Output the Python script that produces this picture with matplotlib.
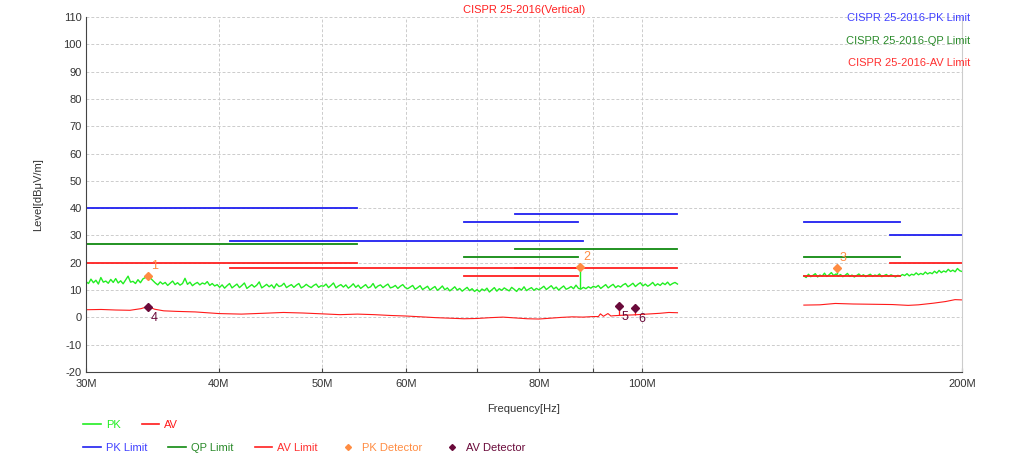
import numpy as np
import matplotlib
matplotlib.use('Agg')
import matplotlib.pyplot as plt
from matplotlib.lines import Line2D

plt.rcParams['font.family'] = ['Liberation Sans', 'DejaVu Sans']
plt.rcParams['axes.unicode_minus'] = False

# ---- data (MHz / dBuV/m) ----
pk_band1 = [13.1, 12.4, 14.0, 12.7, 13.6, 12.2, 14.6, 12.9, 13.3, 12.5, 13.9, 12.8, 14.2, 12.6, 13.4, 12.3,
            13.7, 15.1, 12.9, 13.2, 12.4, 13.8, 12.7,
            14.1, 14.6, 15.2, 14.4, 13.5,
            12.6, 11.9, 13.0, 12.2, 12.8, 11.7, 12.5, 13.3, 12.0, 12.7, 11.8, 12.4, 14.3, 12.1, 12.9, 11.6,
            12.3, 12.8, 11.9, 12.6, 12.2, 13.1, 11.7, 12.4, 11.5, 12.0,
            11.0, 11.9, 10.7, 11.6, 12.4, 10.8, 11.5, 12.2, 10.9, 11.7, 12.6, 10.6, 11.3, 12.0, 11.1, 11.8,
            13.0, 10.8, 11.4, 12.1, 11.2, 11.9, 10.7, 12.3, 11.3, 11.6, 12.5, 10.9, 11.5, 12.0, 11.0, 11.8,
            12.4, 10.8, 11.3, 12.1, 11.4, 10.9, 11.7, 12.2, 11.0, 11.6,
            11.4, 12.2, 10.9, 11.7, 12.6, 10.8, 11.5, 12.0, 11.1, 11.9, 10.7, 11.4, 12.3, 11.0, 11.8, 10.6,
            11.3, 12.0, 10.8, 11.2, 12.4, 10.7, 11.5, 11.9, 10.9, 11.6, 12.2, 10.8, 11.1, 11.7, 10.6, 11.4,
            12.0, 10.9,
            10.5, 11.1, 11.7, 10.3, 10.9, 11.6, 10.2, 10.8, 11.4, 10.0, 10.7, 11.3, 9.9, 10.6, 11.5, 10.1,
            10.8, 9.7, 10.4, 11.2, 10.0, 10.6, 9.6, 10.3, 11.0, 9.8, 10.5, 9.5, 10.2,
            9.4, 10.4, 9.8, 10.7, 9.3, 10.1, 10.9, 9.6, 10.5, 9.9, 10.8, 10.2, 9.7, 11.0, 10.3, 9.5, 10.6,
            10.0, 11.2, 9.8, 10.4, 10.9, 9.9, 10.6, 10.1,
            10.7, 11.4, 10.2, 10.9, 11.6, 10.4, 11.1, 10.0, 10.8, 11.5, 10.3, 10.7, 11.3, 10.5, 11.8, 10.6,
            10.4,
            11.0, 10.5, 11.2, 10.7, 11.4,
            11.0, 11.7, 10.6, 11.3, 12.0, 10.8, 11.5, 12.1, 10.9, 11.6, 11.1, 11.9, 12.4, 11.2, 11.8, 12.5,
            11.3, 12.1, 12.7, 11.5, 12.2, 11.4, 12.0, 12.8, 11.6, 12.3, 11.7, 12.6, 12.0, 12.9, 11.8, 12.4,
            12.8, 12.2]
pk_band2 = [15.2, 14.6, 15.8, 14.9, 15.4, 16.0, 14.8, 15.5, 15.1, 16.2, 15.0, 15.6, 16.4, 15.3, 15.9, 15.1,
            15.7, 14.9, 15.4, 16.1, 15.0, 15.5, 14.8, 15.3, 15.9, 15.1, 15.6, 14.9, 15.4, 15.8, 15.0, 15.5,
            15.2, 15.9, 14.9, 15.3, 15.7, 15.0, 15.6, 15.2, 14.8, 15.4, 15.1, 15.7, 15.3, 16.0, 15.2, 15.8,
            15.5, 16.3, 15.6, 16.1, 15.7, 16.6, 15.9, 16.4, 16.0, 16.9, 16.2, 17.2, 16.4, 17.0, 16.6, 17.6,
            16.8, 17.3, 16.7, 17.9, 17.1, 16.8]

av_f1 = [30, 31, 32, 33, 33.8, 34.3, 34.8, 35.5, 36.5, 38, 40, 42, 44, 46, 48, 50, 52, 54, 56, 58, 60,
         62, 64, 66, 68, 70, 72, 74, 76, 78, 80, 82, 84, 86, 88, 90, 91, 91.4, 92, 92.9, 93.5, 94, 96,
         98, 100, 102, 104, 106, 108]
av_v1 = [2.8, 2.9, 2.7, 2.6, 3.2, 4.0, 3.0, 2.4, 2.2, 2.0, 1.4, 1.2, 1.5, 1.8, 1.6, 1.3, 1.0, 1.2, 1.0,
         0.7, 0.5, 0.2, -0.1, -0.3, -0.5, -0.4, -0.1, 0.1, -0.2, -0.5, -0.6, -0.3, 0.0, 0.2, 0.1, 0.3,
         0.3, 1.3, 0.4, 1.4, 0.5, 0.6, 0.8, 0.9, 1.1, 1.3, 1.5, 1.8, 1.7]
av_f2 = [142, 147, 152, 158, 165, 172, 178, 182, 188, 193, 197, 200]
av_v2 = [4.5, 4.6, 5.1, 4.9, 4.8, 4.7, 4.4, 4.6, 5.2, 5.8, 6.5, 6.4]

# limit segments: start, stop, level
pk_lim = [(30, 54, 40), (41, 88, 28), (68, 87, 35), (76, 108, 38), (142, 175, 35), (171, 200, 30)]
qp_lim = [(30, 54, 27), (68, 87, 22), (76, 108, 25), (142, 175, 22)]
av_lim = [(30, 54, 20), (41, 88, 18), (68, 87, 15), (76, 108, 18), (142, 175, 15), (171, 200, 20)]

pk_det_f = [34.3, 87.5, 152.5]
pk_det_v = [15.0, 18.6, 18.1]
pk_det_base = [14.2, 10.4, 16.0]
pk_det_lbl = ['1', '2', '3']
av_det_f = [34.3, 95.2, 98.6]
av_det_v = [3.9, 4.3, 3.4]
av_det_base = [3.5, 0.8, 0.9]
av_det_lbl = ['4', '5', '6']

c_pk = '#22ee22'
c_av = '#ff1a1a'
c_pklim = '#2020f0'
c_qplim = '#108a10'
c_avlim = '#ff2020'
c_pkdet = '#ff8c42'
c_avdet = '#6a0a3a'

fig = plt.figure(figsize=(10.24, 4.61), dpi=100)
ax = fig.add_axes([86/1024, 1-372/461, 876/1024, 355/461])

f1 = np.geomspace(30, 108, len(pk_band1))
f2 = np.geomspace(142, 200, len(pk_band2))
ax.plot(f1, pk_band1, color=c_pk, lw=1.0)
ax.plot(f2, pk_band2, color=c_pk, lw=1.0)
ax.plot(av_f1, av_v1, color=c_av, lw=0.8)
ax.plot(av_f2, av_v2, color=c_av, lw=0.8)

for lim, c in [(pk_lim, c_pklim), (qp_lim, c_qplim), (av_lim, c_avlim)]:
    for a, b, v in lim:
        ax.plot([a, b], [v, v], color=c, lw=1.3)

ax.vlines(pk_det_f, pk_det_base, pk_det_v, color=c_pk, lw=1.0)
ax.vlines(av_det_f, av_det_base, av_det_v, color=c_av, lw=0.9)
ax.plot(pk_det_f, pk_det_v, 'D', color=c_pkdet, ms=4.5, ls='none')
ax.plot(av_det_f, av_det_v, 'D', color=c_avdet, ms=4.5, ls='none')
for f, v, t in zip(pk_det_f, pk_det_v, pk_det_lbl):
    ax.annotate(t, (f, v), xytext=(2, 5), textcoords='offset points', color=c_pkdet, fontsize=9)
for f, v, t in zip(av_det_f, av_det_v, av_det_lbl):
    ax.annotate(t, (f, v), xytext=(2, -10), textcoords='offset points', color=c_avdet, fontsize=9)

ax.set_xscale('log')
ax.set_xlim(30, 200)
ax.set_ylim(-20, 110)
ax.set_yticks(np.arange(-20, 111, 10))
xt = [30, 40, 50, 60, 70, 80, 90, 100, 200]
xl = ['30M', '40M', '50M', '60M', '', '80M', '', '100M', '200M']
ax.set_xticks(xt)
ax.set_xticklabels(xl)
ax.xaxis.set_minor_locator(plt.NullLocator())
ax.tick_params(axis='x', direction='in', length=3, color='#444444', labelsize=8, labelcolor='#333333', pad=5)
ax.tick_params(axis='y', length=0, labelsize=8, labelcolor='#333333', pad=3)
ax.grid(True, ls='--', color='#cccccc', lw=0.7, dashes=(3, 2))
ax.set_axisbelow(True)

ax.spines['top'].set_visible(False)
ax.spines['right'].set_color('#cccccc')
ax.spines['left'].set_color('#444444')
ax.spines['bottom'].set_color('#444444')

ax.set_title('CISPR 25-2016(Vertical)', color='#ff2020', fontsize=8, pad=3)
ax.set_ylabel('Level[dB\u03bcV/m]', fontsize=8, color='#333333')
ax.yaxis.set_label_coords(-43/876, 0.5)
ax.set_xlabel('Frequency[Hz]', fontsize=8, color='#333333')
ax.xaxis.set_label_coords(0.5, -32/355)

fig.text(970/1024, 1-18/461, 'CISPR 25-2016-PK Limit', color='#4040ff', fontsize=8, ha='right', va='center')
fig.text(970/1024, 1-41/461, 'CISPR 25-2016-QP Limit', color='#2a8a2a', fontsize=8, ha='right', va='center')
fig.text(970/1024, 1-63/461, 'CISPR 25-2016-AV Limit', color='#ff3030', fontsize=8, ha='right', va='center')

h1 = [Line2D([], [], color=c_pk, lw=1.2), Line2D([], [], color=c_av, lw=1.2)]
l1 = fig.legend(h1, ['PK', 'AV'], loc='center left', bbox_to_anchor=(83/1024, 1-425/461), ncol=2,
                frameon=False, fontsize=8, handlelength=1.6, handletextpad=0.45, columnspacing=1.9,
                borderpad=0, borderaxespad=0)
for t, c in zip(l1.get_texts(), [c_pk, c_av]):
    t.set_color(c)
h2 = [Line2D([], [], color=c_pklim, lw=1.2), Line2D([], [], color=c_qplim, lw=1.2),
      Line2D([], [], color=c_avlim, lw=1.2),
      Line2D([], [], color=c_pkdet, marker='D', ms=3, ls='none'),
      Line2D([], [], color=c_avdet, marker='D', ms=3, ls='none')]
l2 = fig.legend(h2, ['PK Limit', 'QP Limit', 'AV Limit', 'PK Detector', 'AV Detector'], loc='center left',
                bbox_to_anchor=(83/1024, 1-448/461), ncol=5, frameon=False, fontsize=8, handlelength=1.6,
                handletextpad=0.45, columnspacing=1.9, borderpad=0, borderaxespad=0)
for t, c in zip(l2.get_texts(), ['#4040ff', '#2a8a2a', '#ff3030', c_pkdet, c_avdet]):
    t.set_color(c)

fig.savefig('out.png', dpi=100)
